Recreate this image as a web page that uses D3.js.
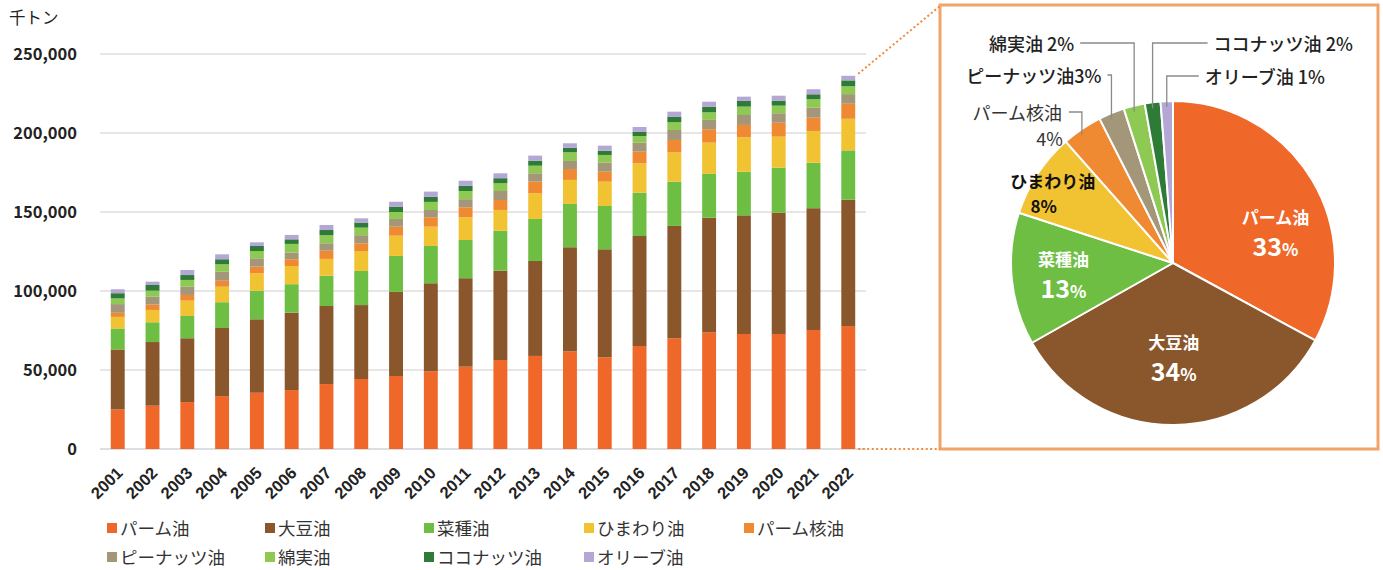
<!DOCTYPE html>
<html><head><meta charset="utf-8">
<script src="https://cdn.jsdelivr.net/npm/d3@7"></script>
<style>
html,body{margin:0;padding:0;background:#fff;}
svg{display:block;font-family:"Noto Sans CJK JP","Noto Sans",sans-serif;}
</style></head>
<body><svg id="c" width="1383" height="570"></svg>
<script>
// ---- data (千トン) ----
const years = ['2001','2002','2003','2004','2005','2006','2007','2008','2009','2010','2011','2012','2013','2014','2015','2016','2017','2018','2019','2020','2021','2022'];
const seriesNames = ['パーム油','大豆油','菜種油','ひまわり油','パーム核油','ピーナッツ油','綿実油','ココナッツ油','オリーブ油'];
const palm      = [25000,27400,29700,33500,35600,37300,41100,44300,46200,49200,52100,56300,58900,61800,58000,65200,70100,73900,72800,72800,75300,77800];
const soy       = [38000,40300,40400,43100,46500,49000,49400,46800,53200,55700,56000,56600,60100,65900,68400,69600,71100,72500,75100,76800,77100,80000];
const rapeseed  = [13300,12500,14100,16300,18100,18000,19200,21600,22800,23600,24200,25300,26600,27400,27400,27400,28000,27700,27600,28500,28800,31200];
const sunflower = [7300,7800,9700,9800,11000,11500,10600,12600,12800,12200,14400,13100,16300,15200,15400,18600,18600,19800,21800,19600,20100,20000];
const palmKernel= [2600,3400,3600,3800,4200,4300,5200,4900,5700,6000,6300,6300,7300,6900,6300,7400,7800,8500,7800,8800,8400,9500];
const peanut    = [5500,5000,5200,5700,5300,4200,4700,5100,4900,4600,5100,5700,5300,5100,5700,5700,6300,5900,6300,6000,6300,6100];
const cotton    = [3600,3800,4300,4700,4600,5500,5100,4800,4400,5100,5200,4900,4800,5500,4900,4200,4900,4800,5300,4800,5400,5000];
const coconut   = [3300,3600,3100,3200,3200,2900,3300,3200,3400,3300,3400,3200,3200,2900,2700,2800,3600,3600,3600,3200,3100,3700];
const olive     = [2500,2100,3200,3100,2300,2800,3200,2700,3100,3200,3100,3100,3200,2800,3200,2900,3100,3100,2700,3100,3200,2900];
const yTicks = [0,50000,100000,150000,200000,250000];
const unitLabel = '千トン';

// ---- styles ----
const colors = ['#F0672A','#8A572C','#6EBE44','#F1C232','#F08A32','#A39679','#8DC953','#2E7B38','#B4A7D6'];
const seriesValues = [palm,soy,rapeseed,sunflower,palmKernel,peanut,cotton,coconut,olive];

const rows = years.map((y,i)=>{ const o={year:y}; seriesNames.forEach((n,k)=>o[n]=seriesValues[k][i]); return o; });

const svg = d3.select('#c');
const x = d3.scaleBand().domain(years).range([100,866]).paddingInner(0.6).paddingOuter(0.31);
const y = d3.scaleLinear().domain([0,250000]).range([449,54]);

// gridlines
svg.append('g').selectAll('line').data(yTicks).join('line')
  .attr('x1',100).attr('x2',866).attr('y1',d=>y(d)).attr('y2',d=>y(d))
  .attr('stroke',d=>d===0?'#cfd4da':'#e2dcdc').attr('stroke-width',1.5);

// y axis labels
const yAxis = svg.append('g').attr('transform','translate(86,0)')
  .call(d3.axisLeft(y).tickValues(yTicks).tickFormat(d3.format(',')).tickSize(0).tickPadding(9));
yAxis.select('.domain').remove();
yAxis.selectAll('text').attr('font-size',16.5).attr('font-weight',700).attr('fill','#222')
  .attr('font-family','"Noto Sans CJK JP",sans-serif');

svg.append('text').attr('x',9).attr('y',24).attr('font-size',16.5).attr('fill','#222').text(unitLabel);

// stacked bars
const stack = d3.stack().keys(seriesNames)(rows);
svg.append('g').selectAll('g').data(stack).join('g').attr('fill',(d,i)=>colors[i])
  .selectAll('rect').data(d=>d).join('rect')
  .attr('x',d=>x(d.data.year)).attr('width',x.bandwidth())
  .attr('y',d=>y(d[1])).attr('height',d=>y(d[0])-y(d[1]));

// x axis labels
const xAxis = svg.append('g').attr('transform','translate(0,452)')
  .call(d3.axisBottom(x).tickSize(0).tickPadding(0));
xAxis.select('.domain').remove();
xAxis.selectAll('text').attr('font-size',16.5).attr('font-weight',700).attr('fill','#222')
  .attr('text-anchor','end').attr('y',0).attr('dy','0.35em').attr('transform','translate(2,18) rotate(-45)');

// legend
const legendCols = [107,265,424,584,744];
const leg = svg.append('g').selectAll('g').data(seriesNames).join('g')
  .attr('transform',(d,i)=>`translate(${legendCols[i%5]},${i<5?528:557})`);
leg.append('rect').attr('x',0).attr('y',-5).attr('width',10).attr('height',10).attr('fill',(d,i)=>colors[i]);
leg.append('text').attr('x',13).attr('y',6.5).attr('font-size',17.5).attr('fill','#333').text(d=>d);

// ---- pie of latest year ----
const last = years.length-1;
const pieVals = seriesNames.map((n,k)=>({name:n,value:seriesValues[k][last],color:colors[k]}));
const total = d3.sum(pieVals,d=>d.value);
const pct = d=>Math.round(d.value/total*100);
const cx = 1173, cy = 263, R = 162;

// box and connectors
svg.append('rect').attr('x',940).attr('y',5).attr('width',438).attr('height',444)
  .attr('fill','none').attr('stroke','#F2A468').attr('stroke-width',3);
const bx = x(years[last])+x.bandwidth()+3;
svg.append('line').attr('x1',bx).attr('y1',y(total)-2).attr('x2',940).attr('y2',6)
  .attr('stroke','#F08A3C').attr('stroke-width',2).attr('stroke-dasharray','2,2.5');
svg.append('line').attr('x1',bx).attr('y1',y(0)).attr('x2',940).attr('y2',y(0))
  .attr('stroke','#F08A3C').attr('stroke-width',2).attr('stroke-dasharray','2,2.5');

const pie = d3.pie().value(d=>d.value).sort(null)(pieVals);
const arc = d3.arc().innerRadius(0).outerRadius(R);
const pg = svg.append('g').attr('transform',`translate(${cx},${cy})`);
pg.selectAll('path').data(pie).join('path').attr('d',arc).attr('fill',d=>d.data.color)
  .attr('stroke','#fff').attr('stroke-width',2).attr('stroke-linejoin','round');

// inner labels (white) and sunflower (dark)
const inner = {
  'パーム油':{r:0.66,da:14,fill:'#fff'},
  '大豆油':{r:0.58,da:0,fill:'#fff'},
  '菜種油':{r:0.68,da:0,fill:'#fff'},
  'ひまわり油':{r:0.86,da:-3,fill:'#111'}
};
pie.forEach(d=>{
  const L = inner[d.data.name]; if(!L) return;
  const a = (d.startAngle+d.endAngle)/2 + L.da*Math.PI/180;
  const px = Math.sin(a)*R*L.r, py = -Math.cos(a)*R*L.r;
  const big = L.fill==='#fff';
  const g = pg.append('g').attr('transform',`translate(${px},${py})`).attr('fill',L.fill).attr('font-weight',700).attr('text-anchor','middle');
  g.append('text').attr('y',big?-8:-5).attr('font-size',17).text(d.data.name);
  const t = g.append('text').attr('y',big?24:20).attr('font-size',big?25:17).attr('dx',big?0:-9);
  t.append('tspan').text(pct(d));
  t.append('tspan').attr('font-size',17).text('%');
});

// outer labels with leader lines
const outer = {
  'パーム核油':{rise:-11,run:-13,two:true},
  'ピーナッツ油':{rise:26,run:-4,sep:''},
  '綿実油':{rise:58,run:-54,sep:' '},
  'ココナッツ油':{rise:58,run:55,sep:' '},
  'オリーブ油':{rise:25,run:32,sep:' '}
};
pie.forEach(d=>{
  const L = outer[d.data.name]; if(!L) return;
  const a = (d.startAngle+d.endAngle)/2;
  const ax = Math.sin(a)*R, ay = -Math.cos(a)*R;
  const ly = -R - L.rise;
  const ex = ax + L.run;
  pg.append('path').attr('d',`M${ax},${ay+6}V${ly}H${ex}`).attr('fill','none')
    .attr('stroke','#8a8a8a').attr('stroke-width',1.3);
  const anchor = L.run<0?'end':'start';
  const tx = ex + (L.run<0?-6:6);
  if(L.two){
    pg.append('text').attr('x',tx-1).attr('y',ly+8).attr('text-anchor',anchor).attr('font-size',18).attr('fill','#333').text(d.data.name);
    pg.append('text').attr('x',tx).attr('y',ly+34).attr('text-anchor',anchor).attr('font-size',18).attr('fill','#333').text(pct(d)+'%');
  } else {
    pg.append('text').attr('x',tx).attr('y',ly+8).attr('text-anchor',anchor).attr('font-size',18).attr('font-weight',500).attr('fill','#222')
      .text(d.data.name+L.sep+pct(d)+'%');
  }
});
</script></body></html>
